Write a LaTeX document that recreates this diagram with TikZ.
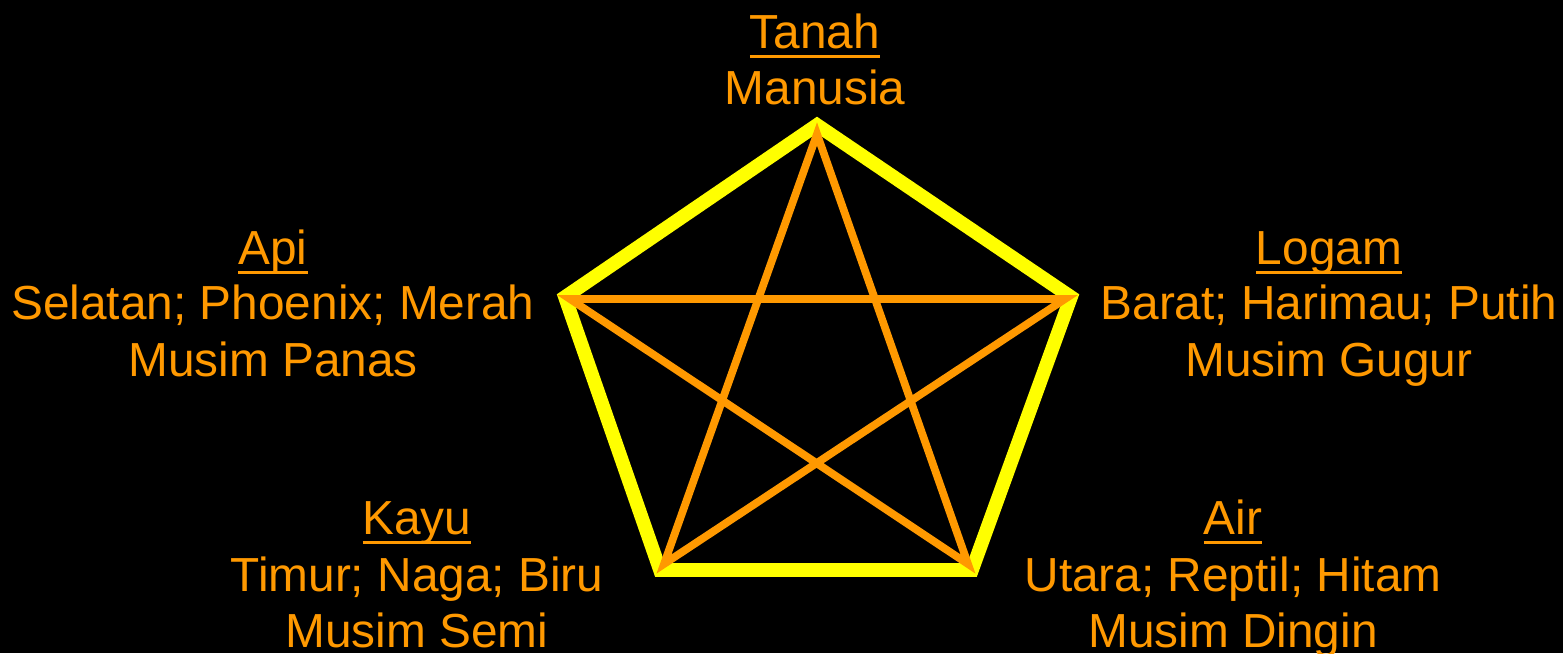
\documentclass[tikz,border=0pt]{standalone}
\usepackage{fontspec}
\setmainfont{Liberation Sans}
\definecolor{ora}{HTML}{FF9900}
\definecolor{yel}{HTML}{FFFF00}
\newcommand\myul[1]{\setbox0\hbox{#1}\rlap{\rule[-0.21em]{\wd0}{0.06em}}\box0}
\begin{document}
\begin{tikzpicture}[x=0.02cm,y=-0.02cm,
  lbl/.style={text=ora,anchor=base,inner sep=0pt,font=\fontsize{27.2}{32}\selectfont},
  pent/.style={draw=yel,line width=7.8pt,miter limit=10},
  star/.style={draw=ora,line width=4.4pt,line cap=round}]
\fill[black] (0,0) rectangle (1563,653);
\useasboundingbox (0,0) rectangle (1563,653);
% pentagon corners
\coordinate (pT) at (817,125);
\coordinate (pR) at (1071,297);
\coordinate (pBR) at (972,570);
\coordinate (pBL) at (660,570);
\coordinate (pL) at (565,297);
\draw[pent] (pT) -- (pR) -- (pBR) -- (pBL) -- (pL) -- cycle;
% star corners
\coordinate (sT) at (817,134);
\coordinate (sR) at (1065,299);
\coordinate (sBR) at (968,564);
\coordinate (sBL) at (664,564);
\coordinate (sL) at (570,299);
\draw[star] (sT) -- (sBL) -- (sR) -- (sL) -- (sBR) -- cycle;
% labels
\node[lbl] (tanah) at (815,48) {\myul{Tanah}};
\node[lbl] (tanah1) at (815,104) {Manusia};
\node[lbl] (api) at (273,264) {\myul{Api}};
\node[lbl] (api1) at (273,319) {Selatan; Phoenix; Merah};
\node[lbl] (api2) at (273,376) {Musim Panas};
\node[lbl] (logam) at (1329,264) {\myul{Logam}};
\node[lbl] (logam1) at (1329,319) {Barat; Harimau; Putih};
\node[lbl] (logam2) at (1329,376) {Musim Gugur};
\node[lbl] (kayu) at (417,534) {\myul{Kayu}};
\node[lbl] (kayu1) at (417,591) {Timur; Naga; Biru};
\node[lbl] (kayu2) at (417,647) {Musim Semi};
\node[lbl] (air) at (1233,534) {\myul{Air}};
\node[lbl] (air1) at (1233,591) {Utara; Reptil; Hitam};
\node[lbl] (air2) at (1233,647) {Musim Dingin};
\end{tikzpicture}
\end{document}
